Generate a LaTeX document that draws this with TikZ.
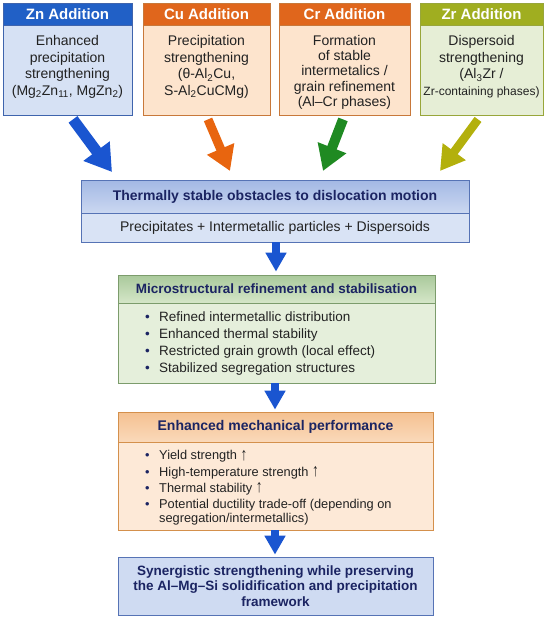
\documentclass[tikz,border=0pt]{standalone}
\usepackage{fontspec}
\setmainfont{Liberation Sans}
\usetikzlibrary{arrows.meta,calc}
\definecolor{znHead}{HTML}{2160C6}
\definecolor{znBody}{HTML}{D6E1F4}
\definecolor{znBorder}{HTML}{3F64AD}
\definecolor{cuHead}{HTML}{E0661C}
\definecolor{cuBody}{HTML}{FDE4CD}
\definecolor{cuBorder}{HTML}{C8783A}
\definecolor{zrHead}{HTML}{A0AE20}
\definecolor{zrBody}{HTML}{E6EED6}
\definecolor{zrBorder}{HTML}{98A63A}
\definecolor{bBorder}{HTML}{5673B5}
\definecolor{bTop}{HTML}{A3B8E4}
\definecolor{bBot}{HTML}{CBD8F1}
\definecolor{bBody}{HTML}{D9E3F5}
\definecolor{gBorder}{HTML}{7C9C6C}
\definecolor{gTop}{HTML}{A9C99B}
\definecolor{gBot}{HTML}{D5E6C8}
\definecolor{gBody}{HTML}{E5EFDB}
\definecolor{oBorder}{HTML}{D4904C}
\definecolor{oTop}{HTML}{F4C191}
\definecolor{oBot}{HTML}{FAD9BA}
\definecolor{oBody}{HTML}{FDE9D7}
\definecolor{fFill}{HTML}{CFDBF2}
\definecolor{navy}{HTML}{1B2462}
\definecolor{textdark}{HTML}{222222}
\definecolor{arrBlue}{HTML}{1A55D0}
\definecolor{arrOrange}{HTML}{E8650F}
\definecolor{arrGreen}{HTML}{1F8A22}
\definecolor{arrOlive}{HTML}{B3B00C}
\newcommand{\upar}{\smash{\raisebox{-0.5pt}{\scalebox{1.05}[1.4]{\bfseries ↑}}}}
\newcommand{\bul}{\makebox[14pt][l]{\textcolor{navy}{\textbullet}}}
\begin{document}
\begin{tikzpicture}[x=1pt,y=-1pt,
  tophead/.style={rectangle, minimum height=22pt, inner sep=0pt, line width=0.8pt,
    font=\fontsize{15}{17}\selectfont\bfseries, text=white},
  topbody/.style={rectangle, minimum height=90pt, inner sep=0pt, line width=0.8pt},
  toptext/.style={anchor=north, align=center, inner sep=0pt, text=textdark},
  bighead/.style={rectangle, inner sep=0pt, line width=0.8pt,
    font=\fontsize{14}{16}\selectfont\bfseries, text=navy},
  bigbody/.style={rectangle, inner sep=0pt, line width=0.8pt, text=textdark},
  bullets/.style={anchor=north west, align=left, inner sep=0pt, text=textdark},
  downarr/.style={line width=8pt, draw=arrBlue, -{Triangle[width=20pt,length=19pt]}}
]
\useasboundingbox (0,0) rectangle (550,623);
% ---- top boxes ----
\node[topbody, minimum width=129pt, fill=znBody, draw=znBorder] (znbody) at (67.5,70) {};
\node[tophead, minimum width=129pt, fill=znHead, draw=znBorder] (znhead) at (67.5,14) {Zn Addition};
\node[toptext, font=\fontsize{14}{16.5}\selectfont] (zntext) at (67.5,35.5)
  {Enhanced\\precipitation\\strengthening\\(Mg\textsubscript{2}Zn\textsubscript{11}, MgZn\textsubscript{2})};

\node[topbody, minimum width=127pt, fill=cuBody, draw=cuBorder] (cubody) at (206.5,70) {};
\node[tophead, minimum width=127pt, fill=cuHead, draw=cuBorder] (cuhead) at (206.5,14) {Cu Addition};
\node[toptext, font=\fontsize{14}{16.5}\selectfont] (cutext) at (206.5,35.5)
  {Precipitation\\strengthening\\(θ-Al\textsubscript{2}Cu,\\S-Al\textsubscript{2}CuCMg)};

\node[topbody, minimum width=131pt, fill=cuBody, draw=cuBorder] (crbody) at (344.5,70) {};
\node[tophead, minimum width=131pt, fill=cuHead, draw=cuBorder] (crhead) at (344.5,14) {Cr Addition};
\node[toptext, font=\fontsize{14}{15.3}\selectfont] (crtext) at (344.5,35)
  {Formation\\of stable\\intermetalics /\\grain refinement\\(Al–Cr phases)};

\node[topbody, minimum width=123pt, fill=zrBody, draw=zrBorder] (zrbody) at (481.5,70) {};
\node[tophead, minimum width=123pt, fill=zrHead, draw=zrBorder] (zrhead) at (481.5,14) {Zr Addition};
\node[toptext, font=\fontsize{14}{16.5}\selectfont] (zrtext) at (481.5,35.5)
  {Dispersoid\\strengthening\\(Al\textsubscript{3}Zr /\\{\fontsize{12}{16.5}\selectfont Zr-containing phases)}};

% ---- obstacles box ----
\node[bigbody, minimum width=388pt, minimum height=29pt, fill=bBody, draw=bBorder,
  font=\fontsize{14}{16}\selectfont] (obsbody) at (275,227.5)
  {Precipitates + Intermetallic particles + Dispersoids};
\node[bighead, minimum width=388pt, minimum height=33pt, top color=bTop, bottom color=bBot,
  draw=bBorder] (obshead) at (275,196.5) {Thermally stable obstacles to dislocation motion};

% ---- diagonal arrows ----
\coordinate (znTip) at (112,172);
\coordinate (cuTip) at (230,171);
\coordinate (crTip) at (323,171);
\coordinate (zrTip) at (440,171);
\draw[line width=11pt, arrBlue, -{Triangle[width=31pt,length=26pt]}]
  ($(znbody.south)+(5.5,4)$) -- (znTip);
\draw[line width=9pt, arrOrange, -{Triangle[width=28pt,length=24pt]}]
  ($(cubody.south)+(1.5,4)$) -- (cuTip);
\draw[line width=10pt, arrGreen, -{Triangle[width=29pt,length=25pt]}]
  ($(crbody.south)+(-1.5,4)$) -- (crTip);
\draw[line width=8.5pt, arrOlive, -{Triangle[width=27pt,length=24pt]}]
  ($(zrbody.south)+(-3.5,4)$) -- (zrTip);

% ---- microstructural box ----
\node[bigbody, minimum width=317pt, minimum height=80pt, fill=gBody, draw=gBorder] (microbody) at (276.5,343) {};
\node[bighead, minimum width=317pt, minimum height=28pt, top color=gTop, bottom color=gBot,
  draw=gBorder, font=\fontsize{13.5}{16}\selectfont\bfseries] (microhead) at (276.5,289)
  {Microstructural refinement and stabilisation};
\node[bullets, font=\fontsize{13.5}{17}\selectfont] (microtext) at (145,311.5)
  {\bul Refined intermetallic distribution\\
   \bul Enhanced thermal stability\\
   \bul Restricted grain growth (local effect)\\
   \bul Stabilized segregation structures};

% ---- mechanical box ----
\node[bigbody, minimum width=315pt, minimum height=88pt, fill=oBody, draw=oBorder] (mechbody) at (275.5,486) {};
\node[bighead, minimum width=315pt, minimum height=30pt, top color=oTop, bottom color=oBot,
  draw=oBorder] (mechhead) at (275.5,427) {Enhanced mechanical performance};
\node[bullets, font=\fontsize{12.8}{13.6}\selectfont] (mechtext) at (145,450.5)
  {\bul Yield strength \upar\\[2.6pt]
   \bul High-temperature strength \upar\\[2.6pt]
   \bul Thermal stability \upar\\[2.6pt]
   \bul Potential ductility trade-off (depending on\\
   \hspace*{14pt}segregation/intermetallics)};

% ---- final box ----
\node[bigbody, minimum width=315pt, minimum height=58pt, fill=fFill, draw=bBorder, align=center,
  text=navy, font=\fontsize{13.5}{15.7}\selectfont\bfseries] (final) at (275.5,586)
  {Synergistic strengthening while preserving\\the Al–Mg–Si solidification and precipitation\\framework};

% ---- vertical arrows ----
\draw[downarr] (obsbody.south -| 276,0) -- ($(microhead.north -| 276,0)+(0,-3)$);
\draw[downarr] (microbody.south -| 275,0) -- ($(mechhead.north -| 275,0)+(0,-2)$);
\draw[downarr] (mechbody.south -| 275,0) -- ($(final.north -| 275,0)+(0,-2)$);
\end{tikzpicture}
\end{document}
